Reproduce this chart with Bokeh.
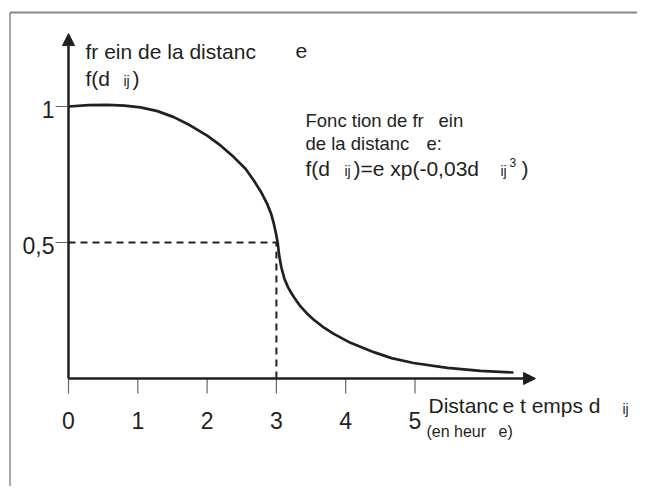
from bokeh.plotting import figure
from bokeh.models import Range1d, Arrow, NormalHead, Label
from bokeh.core.properties import value
from bokeh.embed import file_html
from bokeh.resources import INLINE

# ---------------- data ----------------
distance = [0.0, 0.289, 0.558, 0.808, 1.039, 1.284, 1.519, 1.760, 2.001, 2.193, 2.385, 2.554,
            2.674, 2.778, 2.867, 2.922, 2.962, 2.994, 3.020, 3.040, 3.071, 3.114, 3.167, 3.211,
            3.261, 3.348, 3.434, 3.535, 3.665, 3.828, 4.069, 4.416, 4.661, 4.978, 5.469, 5.945,
            6.421]
frein = [1.0, 1.005, 1.006, 1.003, 0.997, 0.983, 0.961, 0.930, 0.893, 0.857, 0.814, 0.771,
         0.728, 0.686, 0.642, 0.607, 0.570, 0.533, 0.497, 0.452, 0.409, 0.368, 0.336, 0.316,
         0.296, 0.265, 0.241, 0.217, 0.191, 0.164, 0.131, 0.096, 0.075, 0.057, 0.039, 0.028,
         0.022]
x_ticks = [0, 1, 2, 3, 4, 5]
x_tick_labels = ["0", "1", "2", "3", "4", "5"]
y_ticks = [0.5, 1]
y_tick_labels = ["0,5", "1"]
half_x = [0, 3]          # dashed guide: d where f = 0.5
half_y = [0.5, 0.5]
x_axis_end = 6.74
y_axis_end = 1.268

# ---------------- layout ----------------
W, H = 637, 486
PXX, PXY = 69.3, 272.0      # pixels per unit
OX, OY = 68, 378            # origin position on the canvas
INK = "#231f20"
FONT = "Liberation Sans"


def dx(px):
    return (px - OX) / PXX


def dy(py):
    return (OY - py) / PXY


p = figure(width=W, height=H,
           x_range=Range1d(dx(0), dx(W)), y_range=Range1d(dy(H), dy(0)),
           output_backend="svg", toolbar_location=None,
           min_border=0, x_axis_type=None, y_axis_type=None)
p.grid.visible = False
p.outline_line_color = None
p.background_fill_color = "white"
p.border_fill_color = "white"

# page border (top and left)
p.line([dx(9.5), dx(W + 20)], [dy(12), dy(12)], line_color="#8a8a8a", line_width=2.2)
p.line([dx(9.5), dx(9.5)], [dy(12), dy(H + 20)], line_color="#555555", line_width=1)

# axes with arrow heads
p.add_layout(Arrow(end=NormalHead(size=12, fill_color=INK, line_color=INK, line_width=1),
                   x_start=0, y_start=0, x_end=0, y_end=y_axis_end,
                   line_color=INK, line_width=2.5))
p.add_layout(Arrow(end=NormalHead(size=12, fill_color=INK, line_color=INK, line_width=1),
                   x_start=0, y_start=0, x_end=x_axis_end, y_end=0,
                   line_color=INK, line_width=2.5))

# ticks
p.segment(x0=x_ticks, y0=[0] * len(x_ticks), x1=x_ticks, y1=[-15 / PXY] * len(x_ticks),
          line_color="#666666", line_width=1.2)
p.segment(x0=[-13 / PXX] * len(y_ticks), y0=y_ticks, x1=[0] * len(y_ticks), y1=y_ticks,
          line_color="#666666", line_width=1.2)

# tick labels
p.text(x=x_ticks, y=[0] * len(x_ticks), text=x_tick_labels, text_align="center",
       text_baseline="alphabetic", y_offset=42, text_font=value(FONT),
       text_font_size="23px", text_color=INK)
p.text(x=[0] * len(y_ticks), y=y_ticks, text=y_tick_labels, text_align="right",
       text_baseline="alphabetic", x_offset=-14, y_offset=3, text_font=value(FONT),
       text_font_size="23px", text_color=INK)

# dashed guides
p.line(half_x, half_y, line_color=INK, line_width=2, line_dash="7 5")
p.line([half_x[1], half_x[1]], [0, half_y[1]], line_color=INK, line_width=2, line_dash="7 5")

# curve
p.line(distance, frein, line_color=INK, line_width=2.7, line_join="round")


def lab(text, px, py, size):
    p.add_layout(Label(x=dx(px), y=dy(py), text=text, text_font=FONT,
                       text_font_size=f"{size}px", text_color=INK,
                       text_align="left", text_baseline="alphabetic"))


# y-axis title
lab("fr ein de la distanc", 85, 50.5, 21)
lab("e", 295, 50.5, 21)
lab("f(d", 85, 77.5, 21)
lab("ij", 123, 80, 14)
lab(")", 132, 77.5, 21)

# formula box
lab("Fonc tion de fr", 305, 120, 18.5)
lab("ein", 438, 120, 18.5)
lab("de la distanc", 305, 143, 18.5)
lab("e:", 426, 143, 18.5)
lab("f(d", 305, 168, 21)
lab("ij", 344, 170, 14)
lab(")=e xp(-0,03d", 353, 168, 21)
lab("ij", 500, 170, 14)
lab("3", 509, 162, 12)
lab(")", 521, 168, 21)

# x-axis title
lab("Distanc", 428, 405, 21)
lab("e t emps d", 502, 405, 21)
lab("ij", 622, 408, 14)
lab("(en heur", 426, 431, 16)
lab("e)", 498, 431, 16)

open("out.html", "w").write(file_html(p, INLINE))
